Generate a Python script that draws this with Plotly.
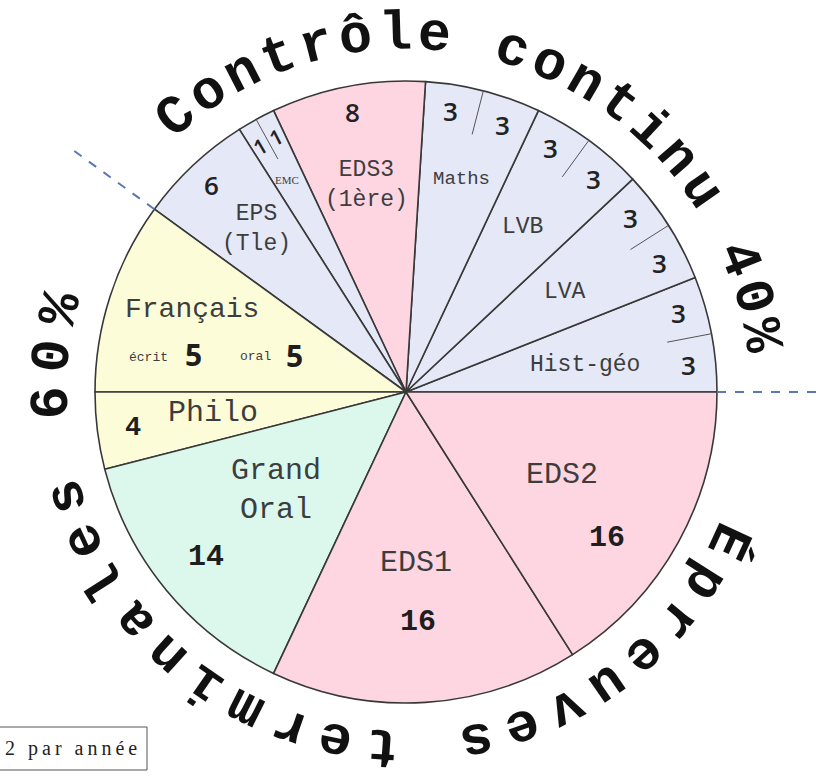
import math
import plotly.graph_objects as go

# ---------------- data ----------------
subjects = ["Hist-géo", "LVA", "LVB", "Maths", "EDS3", "EMC", "EPS",
            "Français", "Philo", "Grand Oral", "EDS1", "EDS2"]
coefficients = [6, 6, 6, 6, 8, 2, 6, 10, 4, 14, 16, 16]
year_parts = [[3, 3], [3, 3], [3, 3], [3, 3], [8], [1, 1], [6],
              [5, 5], [4], [14], [16], [16]]
slice_kind = ["cc", "cc", "cc", "cc", "eds", "cc", "cc",
              "fr", "fr", "go", "eds", "eds"]
group_titles = ["Contrôle continu 40%", "Épreuves terminales 60%"]
group_shares = [40, 60]
francais_parts = ["écrit", "oral"]
box_text = "2 par année"

# ---------------- styles / layout ----------------
W, H = 821, 779
CX, CY, R = 406, 392, 311          # pie centre / radius in pixels (y down)
kind_colors = {"cc": "#e5e8f6", "eds": "#fdd6e2", "fr": "#fdfcd8", "go": "#dcf8ed"}
LINE = "#383838"
LABEL_FONT = "Liberation Mono"
LABEL_COLOR = "#3d3d3d"
NUM_SANS = "Open Sans"
BIG_FONT = "Liberation Mono"

# name label placement (radius px, angle deg, size)
name_pos = {
    "Hist-géo": (181, 8.6, 23), "LVA": (188, 32.2, 23), "LVB": (202, 54.7, 23),
    "Maths": (220, 75.3, 19), "EDS3": (211, 100.7, 23), "EMC": (243, 119.3, 11),
    "EPS": (221, 132.4, 23), "Français": (229, 159, 28), "Philo": (194, 186.2, 30),
    "Grand Oral": (163, 217, 30), "EDS1": (171, 273.3, 30), "EDS2": (177, 332, 30),
}
name_text = {"EDS3": "EDS3<br>(1ère)", "EPS": "EPS<br>(Tle)", "Grand Oral": "Grand<br>Oral"}
# number placement radius (px) for sub-slice numbers
num_radius = {"Hist-géo": 284, "LVA": 284, "LVB": 284, "Maths": 284, "EDS3": 285,
              "EMC": 286, "EPS": 284}
# custom number placement for terminal exams (radius, angle)
num_custom = {"Philo": [(275, 187.5)], "Grand Oral": [(259, 219.5)],
              "EDS1": [(230, 273)], "EDS2": [(248, 324)],
              "Français": [(216, 170), (117, 161.6)]}
fr_word_pos = [(260, 172.3), (155, 166.9)]


def to_paper(r, ang):
    a = math.radians(ang)
    x = CX + r * math.cos(a)
    y = CY - r * math.sin(a)
    return x / W, 1 - y / H


total = sum(coefficients)
starts, ends = [], []
acc = 0
for c in coefficients:
    starts.append(acc / total * 360)
    acc += c
    ends.append(acc / total * 360)

# plotly: with counterclockwise direction the first slice ends at `rotation`
first_share = coefficients[0] / total * 360

fig = go.Figure()
fig.add_trace(go.Pie(
    labels=subjects, values=coefficients, sort=False, direction="counterclockwise",
    rotation=90 - first_share, textinfo="none", hoverinfo="skip", showlegend=False,
    marker=dict(colors=[kind_colors[k] for k in slice_kind], line=dict(color=LINE, width=1.6)),
    domain=dict(x=[(CX - R) / W, (CX + R) / W], y=[1 - (CY + R) / H, 1 - (CY - R) / H]),
))

shapes = []
annotations = []

# ticks between the two year-halves and the numbers
for i, subj in enumerate(subjects):
    parts = year_parts[i]
    span = ends[i] - starts[i]
    sub_acc = 0
    mids = []
    for j, p in enumerate(parts):
        a0 = starts[i] + sub_acc / coefficients[i] * span
        sub_acc += p
        a1 = starts[i] + sub_acc / coefficients[i] * span
        mids.append((a0 + a1) / 2)
        if j < len(parts) - 1 and slice_kind[i] == "cc":
            x0, y0 = to_paper(R * 0.855, a1)
            x1, y1 = to_paper(R, a1)
            shapes.append(dict(type="line", xref="paper", yref="paper", x0=x0, y0=y0, x1=x1, y1=y1,
                               line=dict(color="#555555", width=1)))
    if subj in num_custom:
        positions = num_custom[subj]
    else:
        positions = [(num_radius[subj], m) for m in mids]
    for j, p in enumerate(parts):
        r, ang = positions[j]
        x, y = to_paper(r, ang)
        if slice_kind[i] in ("cc",) or subj == "EDS3":
            fnt = dict(family=NUM_SANS, size=26 if subj != "EMC" else 21, color="#222222", weight=600)
            tang = (90 - ang) if subj == "EMC" else 0
        elif subj == "Français":
            fnt = dict(family=NUM_SANS, size=30, color="#1e1e1e", weight=700)
            tang = 0
        else:
            fnt = dict(family=BIG_FONT, size=30 if subj != "Philo" else 27, color="#1e1e1e", weight=700)
            tang = 0
        annotations.append(dict(x=x, y=y, xref="paper", yref="paper", text=str(p), showarrow=False,
                                font=fnt, textangle=tang, xanchor="center", yanchor="middle"))
    # name label
    r, ang, size = name_pos[subj]
    x, y = to_paper(r, ang)
    fam = "Liberation Serif" if subj == "EMC" else LABEL_FONT
    annotations.append(dict(x=x, y=y, xref="paper", yref="paper", text=name_text.get(subj, subj),
                            showarrow=False, font=dict(family=fam, size=size, color=LABEL_COLOR),
                            xanchor="center", yanchor="middle"))

for w, (r, ang) in zip(francais_parts, fr_word_pos):
    x, y = to_paper(r, ang)
    annotations.append(dict(x=x, y=y, xref="paper", yref="paper", text=w, showarrow=False,
                            font=dict(family=LABEL_FONT, size=13, color=LABEL_COLOR),
                            xanchor="center", yanchor="middle"))

# dashed separators between the two groups
cc_share = group_shares[0] / sum(group_shares) * 360
for ang in (0.0, cc_share):
    x0, y0 = to_paper(R, ang)
    x1, y1 = to_paper(415, ang)
    shapes.append(dict(type="line", xref="paper", yref="paper", x0=x0, y0=y0, x1=x1, y1=y1,
                       line=dict(color="#5b78b5", width=2, dash="dash")))

# curved titles (one rotated character per annotation)
text_specs = [(group_titles[0], 129.9, -6.36, 358), (group_titles[1], -24.8, -7.67, 354)]
for title, a_start, step, text_r in text_specs:
    for k, ch in enumerate(title):
        if ch == " ":
            continue
        ang = a_start + k * step
        x, y = to_paper(text_r, ang)
        annotations.append(dict(x=x, y=y, xref="paper", yref="paper", text=ch, showarrow=False,
                                font=dict(family=BIG_FONT, size=55, color="#111111", weight=700),
                                textangle=90 - ang, xanchor="center", yanchor="middle"))

# box bottom-left
shapes.append(dict(type="rect", xref="paper", yref="paper", x0=-5 / W, x1=147 / W,
                   y0=1 - 770 / H, y1=1 - 727 / H, line=dict(color="#555555", width=1),
                   fillcolor="white"))
annotations.append(dict(x=139 / W, y=1 - 748 / H, xref="paper", yref="paper",
                        text="\u2009".join(box_text), showarrow=False, xanchor="right", yanchor="middle",
                        font=dict(family="Liberation Serif", size=20, color="#222222")))

fig.update_layout(
    width=W, height=H, margin=dict(l=0, r=0, t=0, b=0),
    paper_bgcolor="white", plot_bgcolor="white",
    shapes=shapes, annotations=annotations,
)

fig.write_html("out.html", config={"displayModeBar": False},
               post_script="document.body.style.margin='0';document.body.style.overflow='hidden';")
